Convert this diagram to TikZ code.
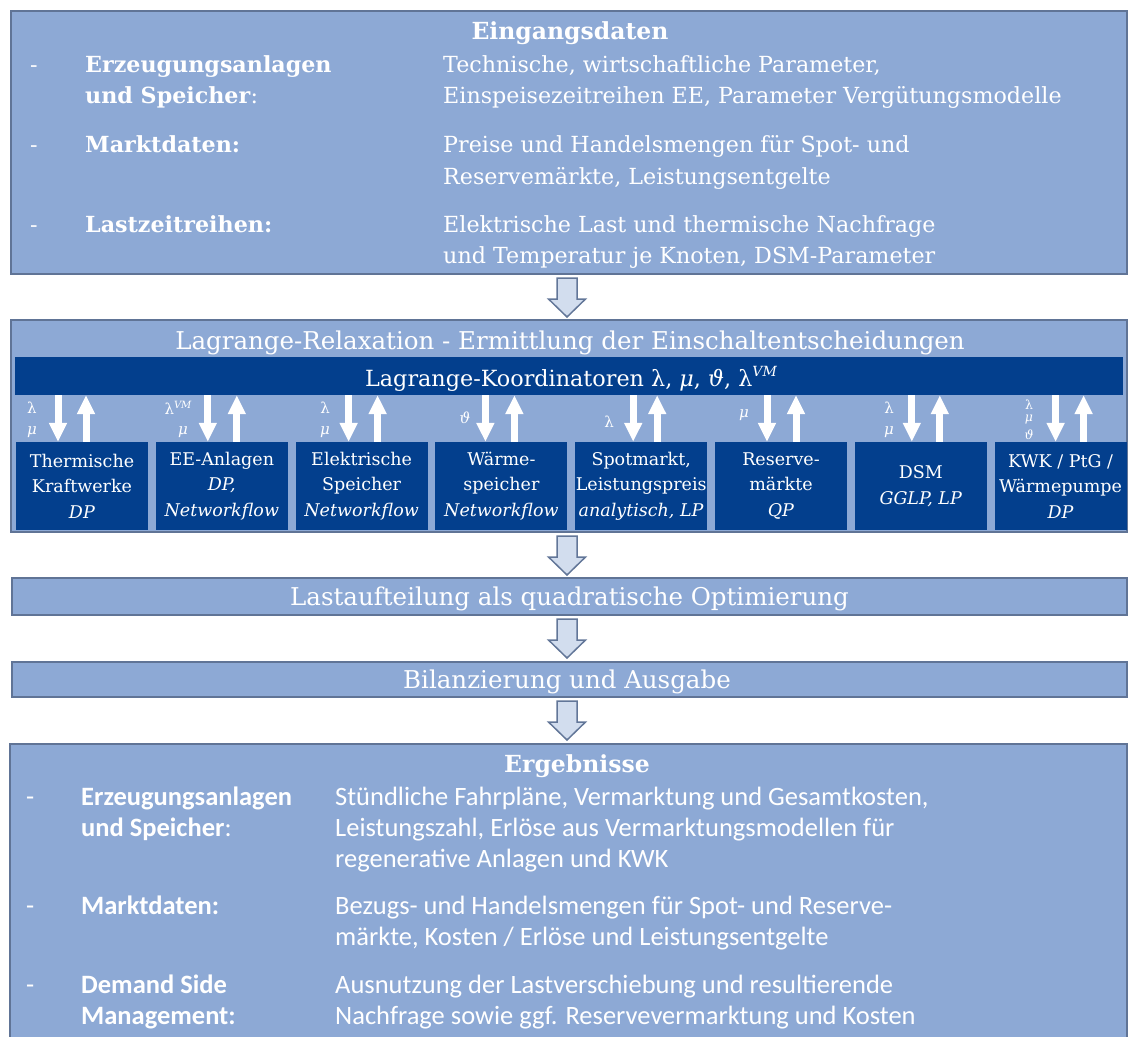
\documentclass[tikz,border=0pt]{standalone}
\usepackage{fontspec}
\setmainfont{DejaVu Serif}
\newfontfamily\calfont{Carlito}
\usetikzlibrary{arrows.meta,calc}
\definecolor{boxfill}{RGB}{141,169,213}
\definecolor{boxline}{RGB}{96,116,150}
\definecolor{darkblue}{RGB}{3,63,141}
\definecolor{arrfill}{RGB}{210,221,238}
\definecolor{arrline}{RGB}{98,118,152}
\newcommand\blockarr[2]{%
  \draw[barrow] ($(#1)+(-10,0)$) -- ($(#2)+(-10,-18)$) -- ($(#2)+(-18.5,-18)$) -- (#2)
    -- ($(#2)+(18.5,-18)$) -- ($(#2)+(10,-18)$) -- ($(#1)+(10,0)$) -- cycle;}
\begin{document}
\begin{tikzpicture}[x=1pt,y=-1pt,
  outerbox/.style={draw=boxline,line width=2pt,fill=boxfill,rectangle,inner sep=0pt},
  subbox/.style={fill=darkblue,rectangle,inner sep=0pt,minimum width=132pt,minimum height=88pt,
    text=white,align=center,font=\fontsize{17.5}{25.5}\selectfont},
  tx/.style={inner sep=0pt,anchor=base west,text=white},
  serif22/.style={tx,font=\fontsize{22.2}{26}\selectfont},
  cal/.style={tx,font=\calfont\fontsize{26.5}{32}\selectfont},
  head/.style={inner sep=0pt,anchor=base,text=white},
  lbl/.style={inner sep=0pt,anchor=center,text=white,font=\fontsize{15}{15}\selectfont},
  slbl/.style={inner sep=0pt,anchor=center,text=white,font=\fontsize{12.5}{12.5}\selectfont},
  warrow/.style={draw=white,line width=7pt,-{Triangle[width=17pt,length=19pt]}},
  barrow/.style={draw=arrline,line width=1.5pt,fill=arrfill,line join=miter}]
\clip (0,0) rectangle (1129,1036);
\useasboundingbox (0,0) rectangle (1129,1036);

% ---------- Eingangsdaten ----------
\node[outerbox,minimum width=1116pt,minimum height=263pt] (inbox) at (569,142.5) {};
\node[head,font=\fontsize{23.5}{26}\selectfont] (intitle) at (570,39) {\textbf{Eingangsdaten}};
\node[serif22] (id1) at (30,72) {-};
\node[serif22] (id2) at (30,152) {-};
\node[serif22] (id3) at (30,232) {-};
\node[serif22] (il1) at (85,72) {\textbf{Erzeugungsanlagen}};
\node[serif22] (il2) at (85,103) {\textbf{und Speicher}:};
\node[serif22] (il3) at (85,152) {\textbf{Marktdaten:}};
\node[serif22] (il4) at (85,232) {\textbf{Lastzeitreihen:}};
\node[serif22] (it1) at (443,72) {Technische, wirtschaftliche Parameter,};
\node[serif22] (it2) at (443,103) {Einspeisezeitreihen EE, Parameter Vergütungsmodelle};
\node[serif22] (it3) at (443,152) {Preise und Handelsmengen für Spot- und};
\node[serif22] (it4) at (443,184) {Reservemärkte, Leistungsentgelte};
\node[serif22] (it5) at (443,232) {Elektrische Last und thermische Nachfrage};
\node[serif22] (it6) at (443,263) {und Temperatur je Knoten, DSM-Parameter};

% ---------- Lagrange-Relaxation ----------
\node[outerbox,minimum width=1116pt,minimum height=212pt] (lagbox) at (569,426) {};
\node[head,font=\fontsize{24.5}{28}\selectfont] (lagtitle) at (570,349)
  {Lagrange-Relaxation - Ermittlung der Einschaltentscheidungen};
\node[fill=darkblue,inner sep=0pt,minimum width=1108pt,minimum height=38pt] (bar) at (569,376) {};
\node[head,font=\fontsize{22.3}{26}\selectfont] (bartext) at (571,386)
  {Lagrange-Koordinatoren λ, \textit{μ}, \textit{ϑ}, λ\raisebox{10pt}{\fontsize{14}{14}\selectfont\itshape VM}};

\node[subbox] (sb1) at (82,486) {Thermische\\Kraftwerke\\\textit{DP}};
\node[subbox] (sb2) at (221.8,486) {EE-Anlagen\\\textit{DP,}\\\textit{Networkflow}};
\node[subbox] (sb3) at (361.6,486) {Elektrische\\Speicher\\\textit{Networkflow}};
\node[subbox] (sb4) at (501.4,486) {Wärme-\\speicher\\\textit{Networkflow}};
\node[subbox] (sb5) at (641.2,486) {Spotmarkt,\\Leistungspreis\\\textit{analytisch, LP}};
\node[subbox] (sb6) at (781,486) {Reserve-\\märkte\\\textit{QP}};
\node[subbox] (sb7) at (920.8,486) {DSM\\\textit{GGLP, LP}};
\node[subbox] (sb8) at (1060.6,486) {KWK / PtG /\\Wärmepumpe\\\textit{DP}};

% arrow anchor coordinates (down / up) per sub-box
\foreach \b/\dn/\up in {sb1/-24/4, sb2/-14/15, sb3/-13/16, sb4/-16/13, sb5/-8/16, sb6/-14/15, sb7/-9/19, sb8/-5/23}{
  \coordinate (\b d) at ($(\b.north)+(\dn,0)$);
  \coordinate (\b u) at ($(\b.north)+(\up,0)$);
  \draw[warrow] (\b d |- bar.south) -- (\b d);
  \draw[warrow] (\b u) -- (\b u |- bar.south);
}

% labels at arrows
\node[lbl] (l1a) at (32,408) {λ};
\node[lbl] (l1b) at (32,432) {\textit{μ}};
\node[lbl] (l2a) at (178,408) {λ\raisebox{6pt}{\fontsize{10}{10}\selectfont\itshape VM}};
\node[lbl] (l2b) at (183,432) {\textit{μ}};
\node[lbl] (l3a) at (325,408) {λ};
\node[lbl] (l3b) at (325,432) {\textit{μ}};
\node[lbl] (l4a) at (465,418) {\textit{ϑ}};
\node[lbl] (l5a) at (609,422) {λ};
\node[lbl] (l6a) at (744,415) {\textit{μ}};
\node[lbl] (l7a) at (889,408) {λ};
\node[lbl] (l7b) at (889,432) {\textit{μ}};
\node[slbl] (l8a) at (1029,404.5) {λ};
\node[slbl] (l8b) at (1029,419.5) {\textit{μ}};
\node[slbl] (l8c) at (1029,434.5) {\textit{ϑ}};

% ---------- Lastaufteilung / Bilanzierung ----------
\node[outerbox,minimum width=1115pt,minimum height=37pt] (qpbox) at (569.5,596.5) {};
\node[head,font=\fontsize{24.5}{28}\selectfont] (qptext) at (569.5,605) {Lastaufteilung als quadratische Optimierung};
\node[outerbox,minimum width=1115pt,minimum height=35pt] (bilbox) at (569.5,679.5) {};
\node[head,font=\fontsize{24.5}{28}\selectfont] (biltext) at (567,688) {Bilanzierung und Ausgabe};

% ---------- Ergebnisse ----------
\node[outerbox,minimum width=1117pt,minimum height=300pt] (erbox) at (568.5,894) {};
\node[head,font=\fontsize{23.5}{26}\selectfont] (ertitle) at (577,772) {\textbf{Ergebnisse}};
\node[cal] (ed1) at (26,805) {-};
\node[cal] (ed2) at (26,914) {-};
\node[cal] (ed3) at (26,993) {-};
\node[cal] (el1) at (81,805) {\textbf{Erzeugungsanlagen}};
\node[cal] (el2) at (81,836) {\textbf{und Speicher}:};
\node[cal] (el3) at (81,914) {\textbf{Marktdaten:}};
\node[cal] (el4) at (81,993) {\textbf{Demand Side}};
\node[cal] (el5) at (81,1024) {\textbf{Management:}};
\node[cal] (et1) at (335,805) {Stündliche Fahrpläne, Vermarktung und Gesamtkosten,};
\node[cal] (et2) at (335,836) {Leistungszahl, Erlöse aus Vermarktungsmodellen für};
\node[cal] (et3) at (335,867) {regenerative Anlagen und KWK};
\node[cal] (et4) at (335,914) {Bezugs- und Handelsmengen für Spot- und Reserve-};
\node[cal] (et5) at (335,945) {märkte, Kosten / Erlöse und Leistungsentgelte};
\node[cal] (et6) at (335,993) {Ausnutzung der Lastverschiebung und resultierende};
\node[cal] (et7) at (335,1024) {Nachfrage sowie ggf. Reservevermarktung und Kosten};

% ---------- block arrows ----------
\coordinate (a1s) at ($(inbox.south)+(-2,3)$);
\coordinate (a1t) at ($(lagbox.north)+(-2,-2)$);
\coordinate (a2s) at ($(lagbox.south)+(-2,3)$);
\coordinate (a2t) at ($(qpbox.north)+(-2.5,-2)$);
\coordinate (a3s) at ($(qpbox.south)+(-2.5,3)$);
\coordinate (a3t) at ($(bilbox.north)+(-2.5,-3)$);
\coordinate (a4s) at ($(bilbox.south)+(-2.5,3)$);
\coordinate (a4t) at ($(erbox.north)+(-1.5,-3)$);
\blockarr{a1s}{a1t}
\blockarr{a2s}{a2t}
\blockarr{a3s}{a3t}
\blockarr{a4s}{a4t}
\end{tikzpicture}
\end{document}
